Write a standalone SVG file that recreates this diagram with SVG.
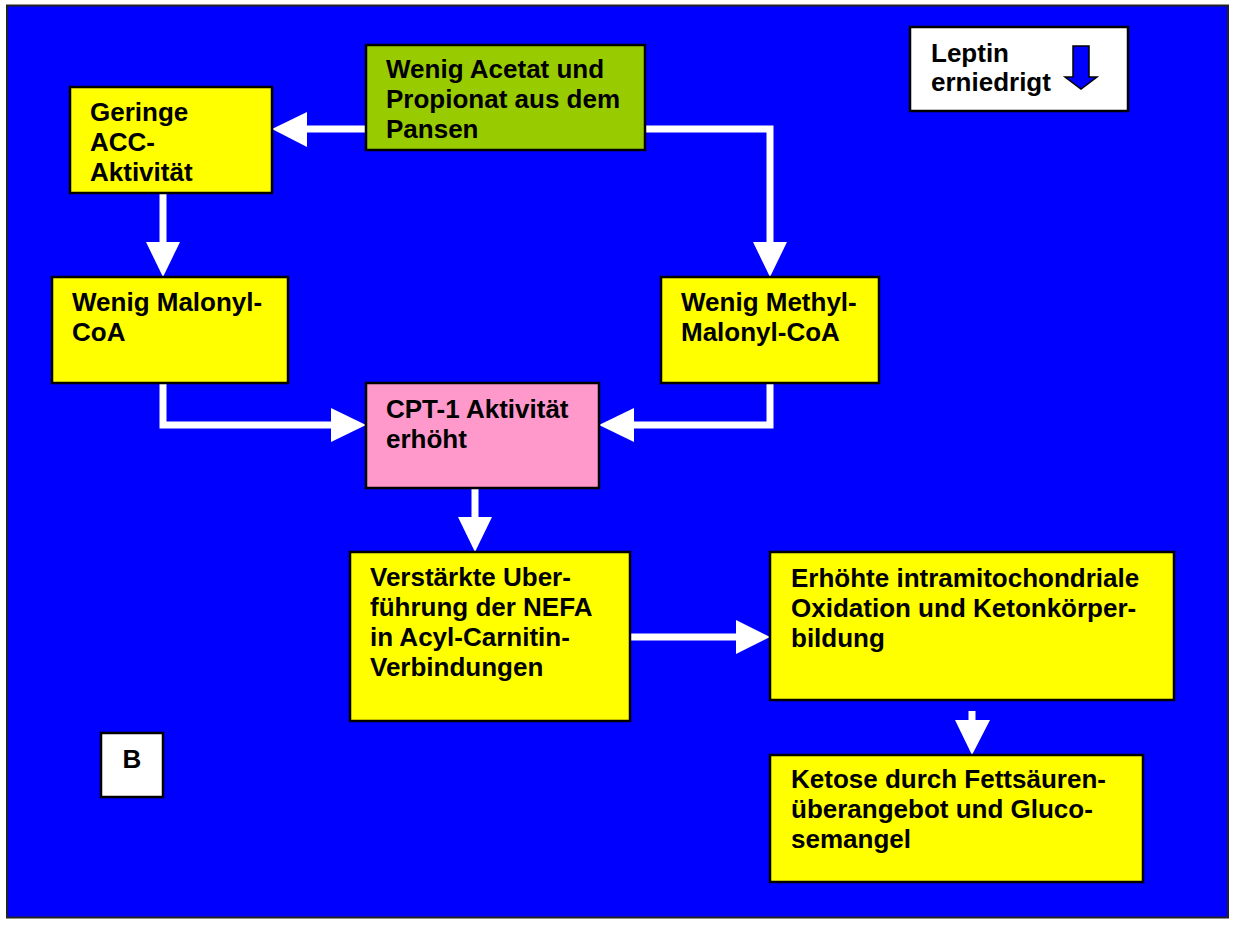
<svg xmlns="http://www.w3.org/2000/svg" width="1236" height="929" viewBox="0 0 1236 929">
  <style>
    .box { stroke: #000000; stroke-width: 2.5; }
    .yellow { fill: #FFFF00; }
    .green { fill: #99CC00; }
    .pink { fill: #FF99CC; }
    .white { fill: #FFFFFF; }
    .label { font-family: "Liberation Sans", Arial, Helvetica, sans-serif; font-weight: bold; font-size: 26px; fill: #000000; }
    .wire { fill: none; stroke: #FFFFFF; stroke-width: 7; stroke-linejoin: miter; }
    .head { fill: #FFFFFF; stroke: none; }
  </style>

  <!-- page background and blue panel -->
  <rect x="0" y="0" width="1236" height="929" fill="#FFFFFF"/>
  <rect id="panel" x="7" y="5.5" width="1221" height="912" fill="#0000FF" stroke="#222222" stroke-width="2"/>

  <!-- connectors -->
  <g id="connectors">
    <!-- acetate/propionate -> ACC -->
    <path class="wire" d="M366 129 H306"/>
    <polygon class="head" points="272,129 307,112 307,147"/>
    <!-- acetate/propionate -> methyl-malonyl -->
    <path class="wire" d="M645 129 H770 V243"/>
    <polygon class="head" points="753,242 787,242 770,277"/>
    <!-- ACC -> malonyl -->
    <path class="wire" d="M163 193 V243"/>
    <polygon class="head" points="146,242 180,242 163,277"/>
    <!-- malonyl -> CPT-1 -->
    <path class="wire" d="M163 383 V425 H332"/>
    <polygon class="head" points="331,408 331,442 366,425"/>
    <!-- methyl-malonyl -> CPT-1 -->
    <path class="wire" d="M770 383 V425 H633"/>
    <polygon class="head" points="634,408 634,442 599,425"/>
    <!-- CPT-1 -> NEFA transfer -->
    <path class="wire" d="M475 488 V518"/>
    <polygon class="head" points="458,517 492,517 475,552"/>
    <!-- NEFA transfer -> oxidation -->
    <path class="wire" d="M630 637 H737"/>
    <polygon class="head" points="736,620 736,654 770,637"/>
    <!-- oxidation -> ketosis -->
    <path class="wire" d="M972 711 V721"/>
    <polygon class="head" points="955,720 990,720 972,755"/>
  </g>

  <!-- nodes -->
  <g id="node-acetat">
    <rect class="box green" x="366" y="45" width="279" height="105"/>
    <text class="label" x="386" y="78">Wenig Acetat und</text>
    <text class="label" x="386" y="108">Propionat aus dem</text>
    <text class="label" x="386" y="138">Pansen</text>
  </g>

  <g id="node-acc">
    <rect class="box yellow" x="70" y="87" width="202" height="106"/>
    <text class="label" x="90" y="121">Geringe</text>
    <text class="label" x="90" y="151">ACC-</text>
    <text class="label" x="90" y="181">Aktivität</text>
  </g>

  <g id="node-leptin">
    <rect class="box white" x="910" y="27" width="218" height="84"/>
    <text class="label" x="931" y="62">Leptin</text>
    <text class="label" x="931" y="91">erniedrigt</text>
    <polygon points="1073,46 1089,46 1089,77 1097,77 1081,89 1065,77 1073,77" fill="#0000FF" stroke="#000000" stroke-width="1.5" stroke-linejoin="miter"/>
  </g>

  <g id="node-malonyl">
    <rect class="box yellow" x="52" y="277" width="236" height="106"/>
    <text class="label" x="72" y="311">Wenig Malonyl-</text>
    <text class="label" x="72" y="341">CoA</text>
  </g>

  <g id="node-methylmalonyl">
    <rect class="box yellow" x="661" y="277" width="218" height="106"/>
    <text class="label" x="681" y="311">Wenig Methyl-</text>
    <text class="label" x="681" y="341">Malonyl-CoA</text>
  </g>

  <g id="node-cpt1">
    <rect class="box pink" x="366" y="383" width="233" height="105"/>
    <text class="label" x="386" y="418">CPT-1 Aktivität</text>
    <text class="label" x="386" y="448">erhöht</text>
  </g>

  <g id="node-nefa">
    <rect class="box yellow" x="350" y="552" width="280" height="169"/>
    <text class="label" x="370" y="586">Verstärkte Uber-</text>
    <text class="label" x="370" y="616">führung der NEFA</text>
    <text class="label" x="370" y="646">in Acyl-Carnitin-</text>
    <text class="label" x="370" y="676">Verbindungen</text>
  </g>

  <g id="node-oxidation">
    <rect class="box yellow" x="770" y="552" width="404" height="148"/>
    <text class="label" x="791" y="587">Erhöhte intramitochondriale</text>
    <text class="label" x="791" y="617">Oxidation und Ketonkörper-</text>
    <text class="label" x="791" y="647">bildung</text>
  </g>

  <g id="node-ketose">
    <rect class="box yellow" x="770" y="755" width="373" height="127"/>
    <text class="label" x="791" y="788">Ketose durch Fettsäuren-</text>
    <text class="label" x="791" y="818">überangebot und Gluco-</text>
    <text class="label" x="791" y="848">semangel</text>
  </g>

  <g id="node-b">
    <rect class="box white" x="101" y="733" width="62" height="64"/>
    <text class="label" x="132" y="768" text-anchor="middle">B</text>
  </g>
</svg>
